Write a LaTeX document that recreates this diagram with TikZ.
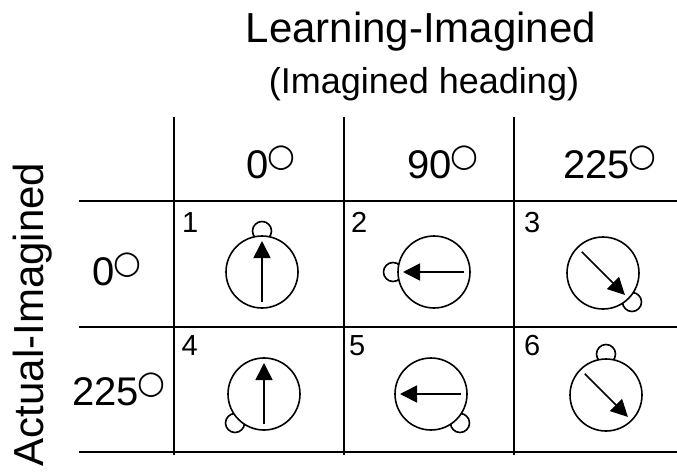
\documentclass[tikz,border=0pt]{standalone}
\usepackage{fontspec}
\setmainfont{Liberation Sans}
\newfontfamily\symfont{DejaVu Sans}
\usetikzlibrary{arrows.meta,calc}
\newcommand{\fsz}[1]{\fontsize{#1}{#1}\selectfont}
\newcommand{\dg}{\hspace{-1pt}\raisebox{11.5pt}{\symfont\fsz{32}○}}
\begin{document}
\begin{tikzpicture}[x=1pt,y=-1pt,
  gridline/.style={line width=1.8pt},
  hdr/.style={anchor=base,inner sep=0pt,font=\fsz{40}},
  num/.style={anchor=base west,inner sep=0pt,font=\fsz{29}},
  body/.style={draw,circle,minimum size=72pt,inner sep=0pt,line width=1.6pt,fill=white},
  headc/.style={draw,circle,minimum size=19pt,inner sep=0pt,line width=1.6pt,fill=white},
  dirarrow/.style={line width=1.6pt,-{Triangle[length=17pt,width=17pt]}}]
\useasboundingbox (0,0) rectangle (677,476);
% titles
\node[anchor=base,inner sep=0pt,font=\fsz{42}] (title) at (421,43) {Learning-Imagined};
\node[anchor=base,inner sep=0pt,font=\fsz{36}] (subtitle) at (424,94) {(Imagined heading)};
\node[anchor=base,inner sep=0pt,rotate=90,font=\fsz{42}] (side) at (43,314.5) {Actual-Imagined};
% grid
\coordinate (v1t) at (174,117); \coordinate (v1b) at (174,455);
\coordinate (v2t) at (344,117); \coordinate (v2b) at (344,455);
\coordinate (v3t) at (514,117); \coordinate (v3b) at (514,455);
\coordinate (h1l) at (79,201); \coordinate (h1r) at (677,201);
\coordinate (h2l) at (79,327); \coordinate (h2r) at (677,327);
\coordinate (h3l) at (79,452); \coordinate (h3r) at (677,452);
\draw[gridline] (v1t) -- (v1b) (v2t) -- (v2b) (v3t) -- (v3b);
\draw[gridline] (h1l) -- (h1r) (h2l) -- (h2r) (h3l) -- (h3r);
% headers
\node[hdr] (c1) at (271,178) {0\dg};
\node[hdr] (c2) at (443,178) {90\dg};
\node[hdr] (c3) at (610,178) {225\dg};
\node[hdr] (r1) at (117,285) {0\dg};
\node[hdr] (r2) at (119,405) {225\dg};
% numbers
\node[num] (n1) at (182,232) {1};
\node[num] (n2) at (351,232) {2};
\node[num] (n3) at (524,232) {3};
\node[num] (n4) at (181.5,355) {4};
\node[num] (n5) at (349,355) {5};
\node[num] (n6) at (524,355) {6};
% figures: center, head angle, arrow angle (screen angles, clockwise)
\foreach \name/\cx/\cy/\ha/\aa in {f1/262/272/-90/-90, f2/434/272/180/180, f3/603/273/45/45,
                                   f4/264/394/135/-90, f5/431/394/45/180, f6/606/395/-90/45}{
  \coordinate (\name c) at (\cx,\cy);
  \node[headc] (\name h) at ($(\name c)+(\ha:41)$) {};
  \node[body] (\name b) at (\name c) {};
  \coordinate (\name s) at ($(\name c)+(\aa+180:30)$);
  \coordinate (\name e) at ($(\name c)+(\aa:31)$);
  \draw[dirarrow] (\name s) -- (\name e);
}
\end{tikzpicture}
\end{document}
